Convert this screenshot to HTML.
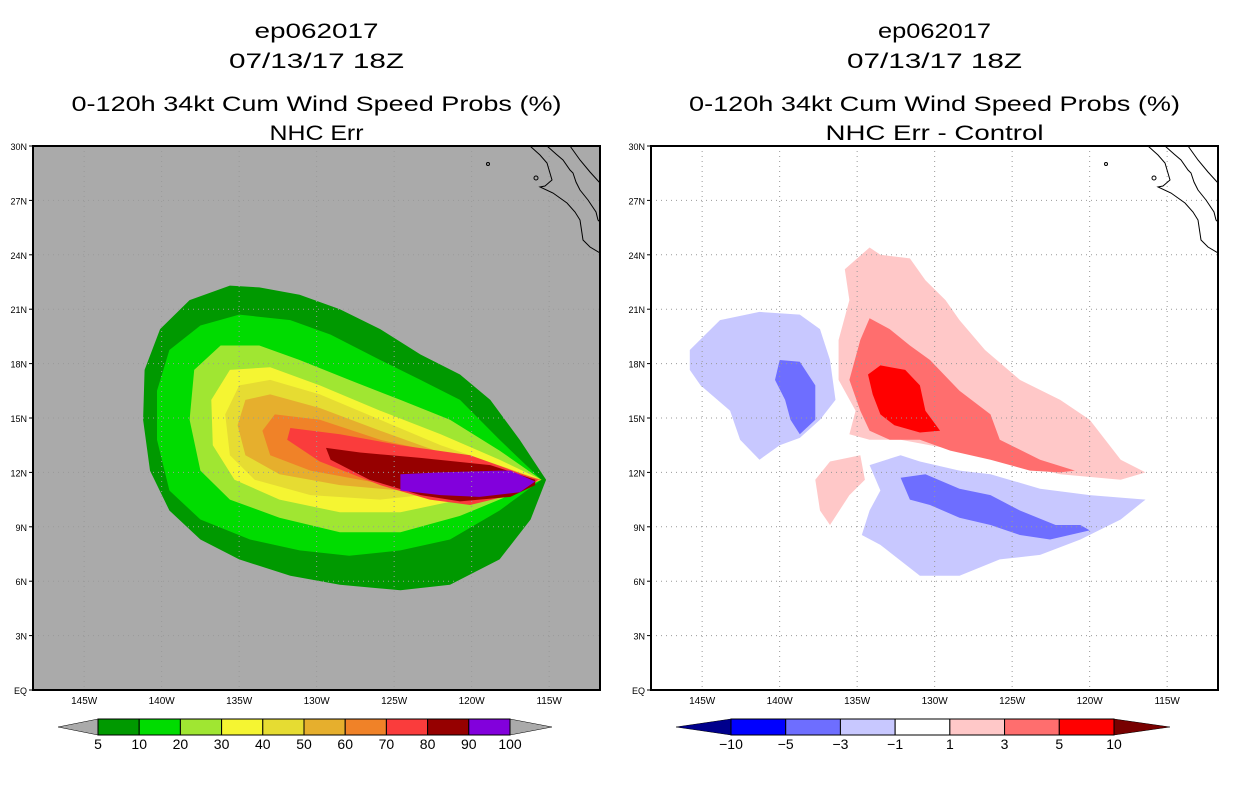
<!DOCTYPE html>
<html><head><meta charset="utf-8"><style>
body{margin:0;background:#fff;width:1236px;height:800px;overflow:hidden}
svg text{font-family:"Liberation Sans",sans-serif;fill:#000}
</style></head><body>
<svg id="c" width="1236" height="800" xmlns="http://www.w3.org/2000/svg"></svg>
<script>
// ---- data: contour polygons as flat [lonW, latN, ...] ----
const probLevels = [5,10,20,30,40,50,60,70,80,90];
const probColors = ["#009900","#00dc00","#a0e632","#f5f532","#e6dc32","#e6af2d","#f08228","#fa3c3c","#960000","#8200dc"];
const probContours = [
 [115.2,11.6,116.9,13.8,118.8,16.0,120.75,17.4,123.3,18.5,125.9,19.9,128.5,21.0,131.1,21.8,133.7,22.2,135.6,22.3,138.2,21.5,140.1,19.9,141.1,17.65,141.2,14.9,140.75,12.1,139.5,9.9,137.5,8.3,135.0,7.2,131.7,6.3,128.5,5.8,124.6,5.5,121.4,5.8,118.2,7.2,116.2,9.4],
 [115.5,11.6,118.2,13.8,120.75,16.0,123.3,17.1,125.9,18.2,129.1,19.6,131.7,20.4,135.0,20.7,137.5,20.1,139.5,18.75,140.3,16.5,140.3,13.8,139.5,11.0,137.5,9.4,134.3,8.3,131.1,7.7,127.9,7.4,124.6,7.7,121.4,8.3,118.2,9.9],
 [115.5,11.6,118.2,13.2,121.4,14.9,124.6,16.0,127.9,17.1,131.1,18.2,133.7,19.0,136.2,19.0,137.9,17.65,138.2,14.9,137.5,12.1,135.6,10.5,132.4,9.5,128.5,8.7,124.6,8.7,120.75,9.6,117.5,10.75],
 [115.5,11.6,118.2,12.7,122.0,14.1,125.9,15.4,129.8,16.8,133.0,17.8,135.6,17.65,136.8,16.0,136.7,13.5,135.3,11.6,132.4,10.5,128.5,9.8,124.6,9.8,120.75,10.5,117.2,11.1],
 [115.5,11.6,122.0,13.5,125.9,14.9,129.8,16.3,133.0,17.1,135.0,16.8,135.9,15.2,135.6,12.95,134.0,11.6,130.4,10.75,125.9,10.5,121.4,10.9,116.9,11.3],
 [115.5,11.6,122.0,13.1,125.9,14.3,129.8,15.55,133.0,16.3,134.6,16.0,135.1,14.6,134.6,12.95,132.4,11.9,128.5,11.3,124.6,11.0,120.75,11.2,116.9,11.4],
 [115.5,11.6,121.4,12.95,125.9,13.8,129.8,14.9,132.7,15.2,133.5,14.3,133.0,12.95,130.4,12.1,126.6,11.5,122.7,11.0,119.5,11.0,116.6,11.4],
 [115.7,11.6,120.1,12.95,124.6,13.5,128.5,14.1,131.7,14.45,131.9,13.8,129.8,12.6,125.9,11.3,122.7,10.5,120.1,10.2,117.5,10.75,116.2,11.2],
 [115.9,11.6,118.8,12.4,123.3,12.8,127.2,13.1,129.4,13.35,129.1,12.7,126.6,11.6,123.3,10.75,120.75,10.4,117.5,10.65,115.9,11.3],
 [117.5,12.1,118.2,12.1,122.0,12.0,124.6,11.9,124.6,11.0,122.0,10.75,119.5,10.65,116.9,10.9,115.9,11.5]
];
const diffLevels = [-10,-5,-3,-1,1,3,5,10];
const diffColors = ["#00008c","#0000ff","#6e6eff","#c8c8ff","#ffffff","#ffc8c8","#ff6e6e","#ff0000","#780000"];
const diffBlobsValue = [-2,-4,2,4,7,2,-2,-4];
const diffBlobs = [
 [145.8,18.75,143.85,20.4,141.3,20.85,138.7,20.7,137.4,19.9,136.75,18.2,136.4,16.0,137.4,14.9,138.7,13.9,140.0,13.5,141.3,12.7,142.55,13.8,143.2,15.4,145.1,16.8,145.8,17.65],
 [140.0,18.2,138.7,18.1,137.7,16.8,137.7,14.9,138.7,14.1,139.3,14.9,139.65,16.0,140.3,17.1],
 [135.8,23.2,134.2,24.4,133.5,24.0,131.6,23.8,130.6,22.6,129.3,21.5,128.4,20.4,126.75,18.75,124.5,17.1,121.9,16.0,120.0,14.9,118.0,12.7,116.4,12.0,118.0,11.6,121.9,11.9,124.5,12.4,127.0,13.0,130.3,13.5,132.2,13.8,134.2,13.8,135.5,14.1,135.1,15.4,136.2,17.1,136.2,19.3,135.5,21.5],
 [135.5,17.1,134.8,19.3,134.2,20.5,132.9,19.9,131.6,19.0,130.3,18.2,128.4,16.5,126.4,15.2,125.8,13.8,123.2,12.7,120.95,12.1,121.9,12.0,123.85,12.1,126.4,12.7,129.0,13.2,130.95,13.8,132.9,13.8,134.2,14.3,134.8,15.4],
 [134.3,17.4,133.5,17.9,131.9,17.65,130.95,16.8,130.6,15.4,129.65,14.3,130.95,14.2,132.6,14.6,133.5,15.2,134.0,16.3],
 [137.7,11.6,136.75,12.6,134.8,12.95,134.5,11.6,135.5,10.75,136.75,9.1,137.4,9.9],
 [134.2,12.4,132.2,12.95,130.95,12.6,128.4,12.1,126.4,11.9,123.2,11.1,120.0,10.75,116.4,10.5,118.0,9.4,120.6,8.3,123.2,7.45,125.8,7.2,128.4,6.3,130.95,6.3,133.5,8.0,134.7,8.55,134.2,9.9,133.5,11.0],
 [132.2,11.7,130.6,11.9,128.4,11.1,126.4,10.75,124.5,9.9,122.2,9.1,120.6,9.1,120.0,8.8,122.55,8.3,124.5,8.55,126.4,9.1,128.4,9.5,130.3,10.2,131.6,10.5]
];
const lonTicks = [145,140,135,130,125,120,115];
const latTicks = [0,3,6,9,12,15,18,21,24,27,30];
const probTickLabels = ["5","10","20","30","40","50","60","70","80","90","100"];
const diffTickLabels = ["-10","-5","-3","-1","1","3","5","10"];

const NS="http://www.w3.org/2000/svg", svg=document.getElementById('c');
function el(t,a,p){const e=document.createElementNS(NS,t);for(const k in a)e.setAttribute(k,a[k]);(p||svg).appendChild(e);return e;}
const panels=[{x0:33,name:'left'},{x0:651,name:'right'}];
const W=567,Y0=146,H=544;
function xs(p,lon){return p.x0+(148.3-lon)*15.5;}
function ys(lat){return Y0+H-lat*(H/30);}
function poly(p,arr){let s=[];for(let i=0;i<arr.length;i+=2)s.push(xs(p,arr[i]).toFixed(1)+','+ys(arr[i+1]).toFixed(1));return s.join(' ');}

// titles
const titles=[["ep062017","07/13/17 18Z","0-120h 34kt Cum Wind Speed Probs (%)","NHC Err"],["ep062017","07/13/17 18Z","0-120h 34kt Cum Wind Speed Probs (%)","NHC Err - Control"]];
const tW=[[124,175,490,94],[113,175,491,218]];
const tY=[38,68,111,140];
const tNames=["storm-id-title","date-title","main-title","subtitle"];
panels.forEach((p,pi)=>{
 titles[pi].forEach((t,i)=>{
  const e=el('text',{x:p.x0+W/2,y:tY[i],'text-anchor':'middle','font-size':21,textLength:tW[pi][i],lengthAdjust:'spacingAndGlyphs'});
  e.textContent=t;
  
  
 });
 const g=el('g',{});
 
 
 const cp=el('clipPath',{id:'cp'+pi},g);el('rect',{x:p.x0,y:Y0,width:W,height:H},cp);
 const bg=el('rect',{x:p.x0,y:Y0,width:W,height:H,fill:pi?'#fff':'#aaaaaa'},g);
 
 
 const cg=el('g',{'clip-path':'url(#cp'+pi+')'},g);
 if(pi===0){
  probContours.forEach((c,i)=>{const e=el('polygon',{points:poly(p,c),fill:probColors[i]},cg);
   
   });
 } else {
  diffBlobs.forEach((c,i)=>{const v=diffBlobsValue[i];let k=0;while(k<diffLevels.length&&v>diffLevels[k])k++;
   const e=el('polygon',{points:poly(p,c),fill:diffColors[k]},cg);
   
   });
 }
 // grid
 lonTicks.forEach(l=>{const x=xs(p,l);el('line',{x1:x,x2:x,y1:Y0,y2:Y0+H,stroke:'#999','stroke-width':1,'stroke-dasharray':'1,4'},cg);});
 latTicks.slice(1,-1).forEach(l=>{const y=ys(l);el('line',{x1:p.x0,x2:p.x0+W,y1:y,y2:y,stroke:'#999','stroke-width':1,'stroke-dasharray':'1,4'},cg);});
 // coastline
 const o=p.x0-33;
 const cs=el('g',{fill:'none',stroke:'#000','stroke-width':1},cg);
 
 
 el('polyline',{points:`${530+o},146 ${540+o},155 ${547+o},163 ${552+o},180 ${545+o},186 ${540+o},187 ${553+o},193 ${567+o},203 ${575+o},212 ${580+o},220 ${583+o},240 ${590+o},247 ${600+o},253`},cs);
 el('polyline',{points:`${547+o},146 ${556+o},154 ${563+o},160 ${570+o},170 ${573+o},173 ${576+o},182 ${580+o},190 ${588+o},200 ${590+o},203 ${596+o},212 ${598+o},220 ${600+o},222`},cs);
 el('polyline',{points:`${570+o},146 ${580+o},160 ${590+o},172 ${600+o},183`},cs);
 el('circle',{cx:488+o,cy:164,r:1.5},cs);el('circle',{cx:536+o,cy:178,r:2},cs);
 const fr=el('rect',{x:p.x0,y:Y0,width:W,height:H,fill:'none',stroke:'#000','stroke-width':2},g);
 
 
 lonTicks.forEach(l=>{const t=el('text',{x:xs(p,l),y:704,'text-anchor':'middle','font-size':10});t.textContent=l+'W';
  });
 latTicks.forEach(l=>{const y=ys(l);el('line',{x1:p.x0-4,x2:p.x0,y1:y,y2:y,stroke:'#000'});
  const t=el('text',{x:p.x0-6,y:y+4,'text-anchor':'end','font-size':9});t.textContent=l===0?'EQ':l+'N';
  });
});
// colorbars
function cbar(x0,x1,tl,tr,cols,labels,fl,fr,name){
 const g=el('g',{});
 const n=cols.length,w=(x1-x0)/n,y=719,h=16;
 el('polygon',{points:`${tl},${y+h/2} ${x0},${y} ${x0},${y+h}`,fill:fl,stroke:'#000','stroke-width':0.5},g);
 el('polygon',{points:`${tr},${y+h/2} ${x1},${y} ${x1},${y+h}`,fill:fr,stroke:'#000','stroke-width':0.5},g);
 cols.forEach((c,i)=>el('rect',{x:x0+i*w,y:y,width:w,height:h,fill:c,stroke:'#000','stroke-width':1},g));
 labels.forEach((l,i)=>{const t=el('text',{x:x0+i*w,y:749,'text-anchor':'middle','font-size':14},g);t.textContent=l.replace('-','\u2212');});
}
cbar(98,510,58,552,probColors,probTickLabels,'#aaaaaa','#aaaaaa','prob-colorbar');
cbar(731,1114,676,1170,diffColors.slice(1,8),diffTickLabels,diffColors[0],diffColors[8],'diff-colorbar');
</script>
</body></html>
